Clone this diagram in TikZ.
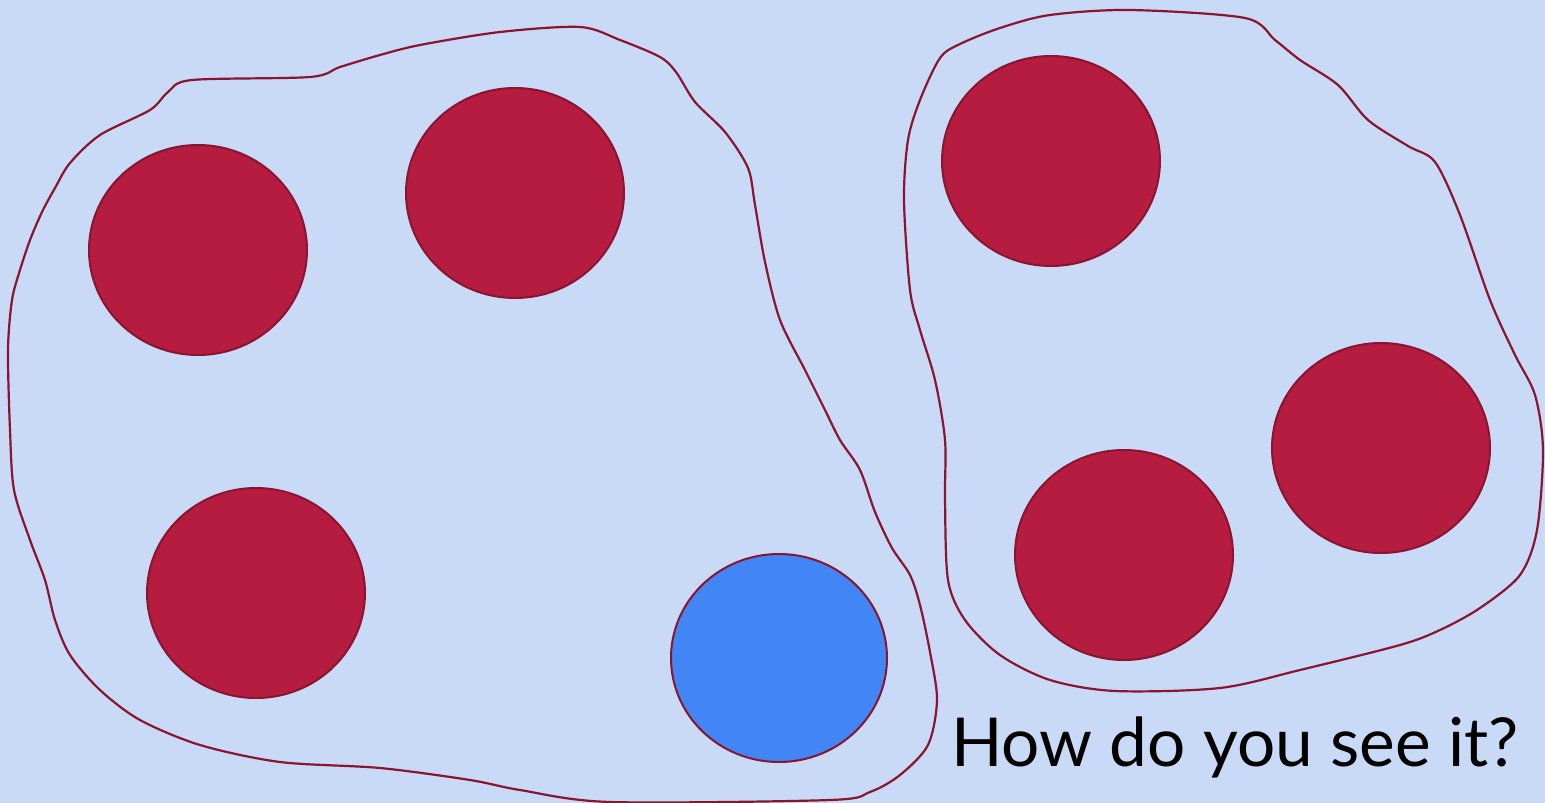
\documentclass[tikz,border=0pt]{standalone}
\usepackage{fontspec}
\setmainfont{Lato}
\usetikzlibrary{shapes.geometric}
\definecolor{slidebg}{HTML}{C9DAF6}
\definecolor{spotred}{HTML}{B51C3F}
\definecolor{spotblue}{HTML}{4285F4}
\definecolor{rimred}{HTML}{8A1530}

\begin{document}
\begin{tikzpicture}[x=1pt,y=-1pt,
  spot/.style={ellipse,draw=rimred,line width=2pt,minimum width=218pt,minimum height=210pt,inner sep=0pt},
  redspot/.style={spot,fill=spotred},
  bluespot/.style={spot,fill=spotblue,minimum width=216pt,minimum height=208pt},
  blob/.style={draw=rimred,line width=2.2pt,line join=round}]
  \useasboundingbox (0,0) rectangle (1545,803);
  \fill[slidebg] (0,0) rectangle (1545,803);
  \clip (0,0) rectangle (1545,803);
  \draw[blob] plot[smooth cycle,tension=0.5] coordinates {
    (8,350) (12,300) (20,270) (30,240) (42,212) (55,188) (70,163) (100,135)
    (150,110) (168,92) (192,80) (310,77) (340,67) (380,55) (420,45) (500,32)
    (580,27) (620,40) (660,57) (676,72) (695,102) (725,132) (748,168) (755,205)
    (765,262) (780,320) (805,370) (825,410) (840,440) (860,470) (875,512)
    (892,548) (910,575) (920,605) (930,652) (937,700) (928,745) (900,775)
    (870,792) (830,800) (610,802) (520,790) (470,780) (380,768) (280,762)
    (200,745) (140,720) (100,690) (70,655) (55,620) (45,580) (30,540)
    (14,490) (10,430)};
  \draw[blob] plot[smooth cycle,tension=0.5] coordinates {
    (940,58) (960,44) (1000,28) (1050,15) (1130,10) (1245,18) (1275,40)
    (1300,60) (1338,85) (1368,120) (1408,146) (1435,162) (1460,215)
    (1490,300) (1515,355) (1535,395) (1543,450) (1537,530) (1520,575)
    (1480,608) (1440,630) (1400,645) (1300,670) (1220,688) (1115,691)
    (1050,680) (1000,655) (965,620) (948,580) (945,500) (945,440) (935,380)
    (920,330) (910,290) (904,200) (908,140) (920,100)};
  \node[redspot] (topleft) at (198,250) {};
  \node[redspot] (topmid) at (515,193) {};
  \node[redspot] (lowleft) at (256,593) {};
  \node[bluespot] (odd) at (779,658) {};
  \node[redspot] (rtop) at (1051,161) {};
  \node[redspot] (rright) at (1381,448) {};
  \node[redspot] (rlow) at (1124,555) {};
  \node[anchor=base west,inner sep=0pt,font=\fontsize{67.5}{80}\selectfont] (question) at (951,766) {How do you see it?};
\end{tikzpicture}
\end{document}
